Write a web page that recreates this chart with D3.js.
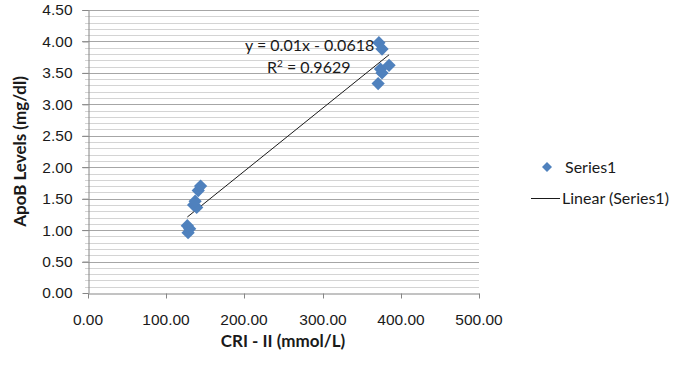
<!DOCTYPE html>
<html>
<head>
<meta charset="utf-8">
<script src="https://cdn.jsdelivr.net/npm/d3@7"></script>
<style>
  body { margin: 0; background: #fff; }
  svg { display: block; font-family: Lato, "Open Sans", sans-serif; }
  .tick-text { font-size: 15.5px; fill: #1a1a1a; }
  .axis-title { font-size: 17px; font-weight: bold; fill: #1a1a1a; }
  .legend-text { font-size: 16px; fill: #1a1a1a; }
</style>
</head>
<body>
<div id="chart"></div>
<script>
// CRI - II vs ApoB readings
const criValues = [127, 130, 128, 135, 139, 137, 141, 144, 372, 376, 385, 374, 376, 371];
const apobValues = [1.07, 1.02, 0.96, 1.40, 1.36, 1.46, 1.63, 1.70, 3.98, 3.88, 3.62, 3.56, 3.50, 3.33];
const xTicks = [0, 100, 200, 300, 400, 500];
const yTicks = [0, 0.5, 1, 1.5, 2, 2.5, 3, 3.5, 4, 4.5];
const trendSlope = 0.01;
const trendIntercept = -0.0618;
const trendR2 = 0.9629;
const legendLabels = ["Series1", "Linear (Series1)"];

const width = 691;
const height = 369;
const margin = { top: 10, right: 212, bottom: 76, left: 88 };
const blue = "#4f81bd";

const points = criValues.map((x, i) => ({ x, y: apobValues[i] }));

const x = d3.scaleLinear().domain([0, 500]).range([margin.left, width - margin.right]);
const y = d3.scaleLinear().domain([0, 4.5]).range([height - margin.bottom, margin.top]);

const svg = d3.select("#chart").append("svg")
  .attr("width", width)
  .attr("height", height);

// minor gridlines every 0.1
const minorTicks = d3.range(0, 46).map((d) => d / 10).filter((d) => Math.round(d * 10) % 5 !== 0);
svg.append("g")
  .selectAll("line")
  .data(minorTicks)
  .join("line")
  .attr("x1", x(0) - 3)
  .attr("x2", x(500))
  .attr("y1", (d) => Math.round(y(d)) + 0.5)
  .attr("y2", (d) => Math.round(y(d)) + 0.5)
  .attr("stroke", "#d4d4d4");

// major gridlines
svg.append("g")
  .selectAll("line")
  .data(yTicks.filter((d) => d > 0))
  .join("line")
  .attr("x1", x(0) - 6)
  .attr("x2", x(500))
  .attr("y1", (d) => Math.round(y(d)) + 0.5)
  .attr("y2", (d) => Math.round(y(d)) + 0.5)
  .attr("stroke", "#a6a6a6");

// axes
const xAxis = svg.append("g")
  .attr("transform", `translate(0,${Math.round(y(0)) + 0.5})`)
  .call(d3.axisBottom(x).tickValues(xTicks).tickSize(5).tickSizeOuter(0).tickPadding(15).tickFormat(d3.format(".2f")));
const yAxis = svg.append("g")
  .attr("transform", `translate(${Math.round(x(0)) + 0.5},0)`)
  .call(d3.axisLeft(y).tickValues(yTicks).tickSize(6).tickSizeOuter(0).tickPadding(10).tickFormat(d3.format(".2f")));

[xAxis, yAxis].forEach((g) => {
  g.select(".domain").attr("stroke", "#868686");
  g.selectAll(".tick line").attr("stroke", "#868686");
  g.selectAll(".tick text").attr("class", "tick-text").attr("font-size", null).attr("font-family", null);
});
xAxis.selectAll(".tick line").attr("x1", 0.5).attr("x2", 0.5);
xAxis.selectAll(".tick").attr("transform", (d) => `translate(${Math.round(x(d))},0)`);

// axis titles
svg.append("text")
  .attr("class", "axis-title")
  .attr("x", 283)
  .attr("y", 347)
  .attr("text-anchor", "middle")
  .text("CRI - II (mmol/L)");
svg.append("text")
  .attr("class", "axis-title")
  .attr("transform", `translate(26,${(y(0) + y(4.5)) / 2}) rotate(-90)`)
  .attr("text-anchor", "middle")
  .text("ApoB Levels (mg/dl)");

// trend line over data range
const xExtent = d3.extent(criValues);
svg.append("line")
  .attr("x1", x(xExtent[0]))
  .attr("y1", y(trendSlope * xExtent[0] + trendIntercept))
  .attr("x2", x(xExtent[1]))
  .attr("y2", y(trendSlope * xExtent[1] + trendIntercept))
  .attr("stroke", "#1a1a1a")
  .attr("stroke-width", 1);

// markers
const diamond = d3.symbol().type(d3.symbolSquare).size(88);
svg.append("g")
  .selectAll("path")
  .data(points)
  .join("path")
  .attr("d", diamond)
  .attr("transform", (d) => `translate(${x(d.x)},${y(d.y)}) rotate(45)`)
  .attr("fill", blue);

// equation label
const eq = svg.append("g").attr("class", "legend-text");
eq.append("text")
  .attr("x", 245)
  .attr("y", 51)
  .text(`y = ${trendSlope}x - ${Math.abs(trendIntercept)}`);
const r2 = eq.append("text").attr("x", 267).attr("y", 73);
r2.append("tspan").text("R");
r2.append("tspan").attr("dy", -6).attr("font-size", 10).text("2");
r2.append("tspan").attr("dy", 6).text(` = ${trendR2}`);

// legend
const legend = svg.append("g");
legend.append("path")
  .attr("d", d3.symbol().type(d3.symbolSquare).size(50))
  .attr("transform", "translate(547,167) rotate(45)")
  .attr("fill", blue);
legend.append("line")
  .attr("x1", 531).attr("x2", 560)
  .attr("y1", 198.5).attr("y2", 198.5)
  .attr("stroke", "#1a1a1a");
legend.selectAll("text")
  .data(legendLabels)
  .join("text")
  .attr("class", "legend-text")
  .attr("font-size", 17)
  .attr("x", (d, i) => (i === 0 ? 565 : 562))
  .attr("y", (d, i) => (i === 0 ? 172.5 : 204))
  .text((d) => d);
</script>
</body>
</html>
